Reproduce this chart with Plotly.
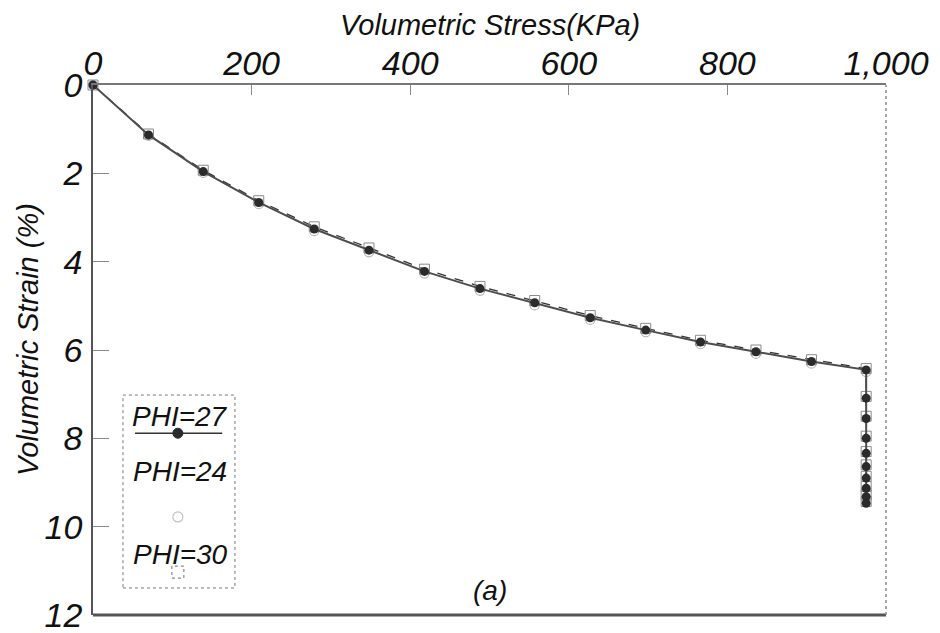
import plotly.graph_objects as go

# Loading path: volumetric stress (kPa) and volumetric strain (%) per friction angle
stress_kpa = [0, 70, 139, 209, 279, 348, 418, 488, 557, 627, 697, 766, 836, 906, 975]
strain_phi27 = [0, 1.13, 1.96, 2.66, 3.26, 3.74, 4.22, 4.61, 4.93, 5.27, 5.55, 5.82, 6.04, 6.26, 6.45]
strain_phi24 = [0, 1.15, 1.99, 2.70, 3.31, 3.79, 4.27, 4.66, 4.99, 5.32, 5.60, 5.87, 6.09, 6.31, 6.50]
strain_phi30 = [0, 1.11, 1.93, 2.62, 3.21, 3.69, 4.17, 4.56, 4.88, 5.22, 5.51, 5.78, 6.00, 6.22, 6.42]

# Collapse at the last stress level
failure_stress_kpa = 975
failure_strain_phi27 = [7.09, 7.55, 8.00, 8.34, 8.64, 8.90, 9.13, 9.32, 9.47]
failure_strain_phi30 = [7.05, 7.50, 7.95, 8.30, 8.60, 8.86, 9.09, 9.28, 9.43]

x_ticks = [0, 200, 400, 600, 800, 1000]
y_ticks = [0, 2, 4, 6, 8, 10, 12]
series_names = ["PHI=27", "PHI=24", "PHI=30"]

FONT = "Liberation Sans, Arial, sans-serif"

fig = go.Figure()

x27 = stress_kpa + [failure_stress_kpa] * len(failure_strain_phi27)
y27 = strain_phi27 + failure_strain_phi27
x30 = stress_kpa + [failure_stress_kpa] * len(failure_strain_phi30)
y30 = strain_phi30 + failure_strain_phi30

fig.add_trace(go.Scatter(
    x=stress_kpa, y=strain_phi24, name=series_names[1], mode="markers",
    marker=dict(symbol="circle-open", size=9, color="#b5b5b5", line=dict(width=1.2)),
    cliponaxis=False,
))
fig.add_trace(go.Scatter(
    x=x30, y=y30, name=series_names[2], mode="lines+markers",
    line=dict(color="#333333", width=1.3, dash="dash"),
    marker=dict(symbol="square-open", size=10, color="#8a8a8a", line=dict(width=1)),
    cliponaxis=False,
))
fig.add_trace(go.Scatter(
    x=x27, y=y27, name=series_names[0], mode="lines+markers",
    line=dict(color="#4d4d4d", width=2),
    marker=dict(symbol="circle", size=9, color="#2b2b2b"),
    cliponaxis=False,
))

fig.update_layout(
    width=940, height=633,
    margin=dict(l=93, r=54, t=85, b=18, autoexpand=False),
    paper_bgcolor="white", plot_bgcolor="white",
    showlegend=False,
    font=dict(family=FONT, style="italic", color="#111111"),
    xaxis=dict(
        side="top", range=[0, 1000], tickvals=x_ticks, tickformat=",d",
        ticks="inside", ticklen=10, tickcolor="#888888", tickwidth=1,
        tickfont=dict(size=34, family=FONT, style="italic"),
        showline=True, linecolor="#777777", linewidth=1.5,
        showgrid=False, zeroline=False, ticklabelstandoff=-5,
        ticklabeloverflow="allow", automargin=False,
    ),
    yaxis=dict(
        range=[12, 0], tickvals=y_ticks,
        ticks="inside", ticklen=16, tickcolor="#888888", tickwidth=1,
        tickfont=dict(size=34, family=FONT, style="italic"),
        showline=True, linecolor="#555555", linewidth=1.5,
        showgrid=False, zeroline=False, ticklabelstandoff=2,
        ticklabeloverflow="allow", automargin=False,
    ),
)

# Axis titles
fig.add_annotation(x=0.5, y=1, xref="paper", yref="paper", yshift=60,
                   xanchor="center", yanchor="middle",
                   text="Volumetric Stress(KPa)", showarrow=False,
                   font=dict(size=29, family=FONT, style="italic"))
fig.add_annotation(x=0, y=0.5, xref="paper", yref="paper", xshift=-65, yshift=10,
                   xanchor="center", yanchor="middle",
                   text="Volumetric Strain (%)", showarrow=False, textangle=-90,
                   font=dict(size=29, family=FONT, style="italic"))
fig.add_annotation(x=0.5, y=0.047, xref="paper", yref="paper",
                   xanchor="center", yanchor="middle",
                   text="(a)", showarrow=False,
                   font=dict(size=28, family=FONT, style="italic"))

# Bottom and right frame edges
fig.add_shape(type="line", xref="paper", yref="paper", x0=0, x1=1, y0=0, y1=0,
              line=dict(color="#555555", width=3))
fig.add_shape(type="line", xref="paper", yref="paper", x0=1, x1=1, y0=0, y1=1,
              line=dict(color="#8a8a8a", width=1.5, dash="dot"))

# Key box
fig.add_shape(type="rect", xref="paper", yref="paper", x0=0.0378, x1=0.179, y0=0.051, y1=0.415,
              line=dict(color="#777777", width=1, dash="dot"), fillcolor="white")
key_x = 0.107
key_text_y = [0.374, 0.270, 0.115]
for name, ty in zip(series_names, key_text_y):
    fig.add_annotation(x=0.110, y=ty, xref="paper", yref="paper", text=name, showarrow=False,
                       xanchor="center", yanchor="middle",
                       font=dict(size=28, family=FONT, style="italic"))
fig.add_shape(type="line", xref="paper", yref="paper", x0=0.053, x1=0.163, y0=0.343, y1=0.343,
              line=dict(color="#333333", width=1.5))
fig.add_shape(type="circle", xref="paper", yref="paper", xsizemode="pixel", ysizemode="pixel",
              xanchor=key_x, yanchor=0.343, x0=-5, x1=5, y0=-5, y1=5,
              fillcolor="#2b2b2b", line=dict(color="#2b2b2b", width=1))
fig.add_shape(type="circle", xref="paper", yref="paper", xsizemode="pixel", ysizemode="pixel",
              xanchor=key_x, yanchor=0.185, x0=-5, x1=5, y0=-5, y1=5,
              line=dict(color="#c0c0c0", width=1.2))
fig.add_shape(type="rect", xref="paper", yref="paper", xsizemode="pixel", ysizemode="pixel",
              xanchor=key_x, yanchor=0.081, x0=-6, x1=6, y0=-6, y1=6,
              line=dict(color="#888888", width=1.2, dash="dot"))

fig.write_html("out.html")
